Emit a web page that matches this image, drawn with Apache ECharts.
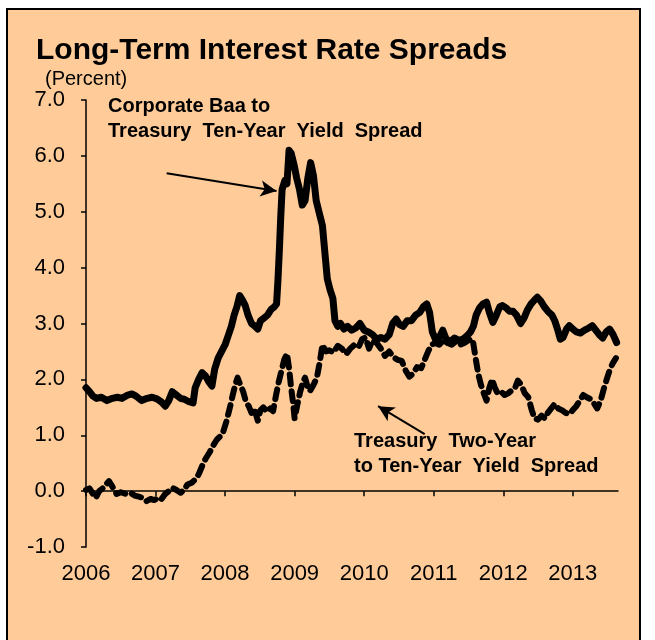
<!DOCTYPE html>
<html>
<head>
<meta charset="utf-8">
<script src="https://cdn.jsdelivr.net/npm/echarts@6/dist/echarts.min.js"></script>
<style>
html,body{margin:0;padding:0;background:#ffffff;}
#chart{width:655px;height:640px;}
</style>
</head>
<body>
<div id="chart"></div>
<script>
// Tick labels
var yearLabels = [2006, 2007, 2008, 2009, 2010, 2011, 2012, 2013];
var yTicks = [-1, 0, 1, 2, 3, 4, 5, 6, 7];

// Corporate Baa to Treasury 10-year spread (decimal year, percent)
var baaDates = [2006.00,2006.05,2006.10,2006.15,2006.22,2006.30,2006.38,2006.45,2006.52,2006.60,2006.66,2006.72,2006.80,2006.88,2006.95,
2007.02,2007.08,2007.14,2007.19,2007.24,2007.30,2007.36,2007.42,2007.48,2007.54,2007.57,2007.62,2007.67,2007.72,2007.77,2007.81,2007.85,2007.90,2007.95,
2008.00,2008.05,2008.09,2008.13,2008.17,2008.21,2008.25,2008.29,2008.33,2008.38,2008.43,2008.47,2008.51,2008.56,2008.61,2008.66,2008.71,2008.74,2008.76,2008.78,2008.80,2008.82,2008.86,2008.89,2008.92,2008.95,2008.99,
2009.03,2009.07,2009.11,2009.15,2009.19,2009.23,2009.27,2009.31,2009.36,2009.40,2009.44,2009.47,2009.51,2009.55,2009.58,2009.62,2009.66,2009.71,2009.76,2009.82,2009.88,2009.94,
2010.00,2010.06,2010.12,2010.18,2010.24,2010.30,2010.36,2010.41,2010.46,2010.51,2010.56,2010.62,2010.68,2010.74,2010.80,2010.85,2010.90,2010.94,2010.98,
2011.03,2011.08,2011.13,2011.18,2011.24,2011.30,2011.36,2011.42,2011.48,2011.53,2011.57,2011.61,2011.66,2011.71,2011.76,2011.80,2011.85,2011.90,2011.95,2011.99,
2012.04,2012.09,2012.14,2012.19,2012.25,2012.30,2012.35,2012.40,2012.45,2012.49,2012.54,2012.59,2012.64,2012.70,2012.74,2012.78,2012.82,2012.86,2012.91,2012.95,
2013.00,2013.05,2013.11,2013.17,2013.23,2013.28,2013.33,2013.38,2013.43,2013.48,2013.53,2013.58,2013.63];
var baaValues = [1.85,1.78,1.70,1.66,1.68,1.62,1.66,1.68,1.66,1.72,1.74,1.70,1.62,1.66,1.68,
1.65,1.60,1.52,1.62,1.78,1.72,1.66,1.64,1.60,1.58,1.85,2.00,2.12,2.06,1.95,1.88,2.18,2.38,2.50,
2.62,2.80,2.95,3.15,3.30,3.50,3.42,3.32,3.15,3.00,2.95,2.90,3.05,3.10,3.15,3.25,3.30,3.35,3.77,4.30,4.90,5.40,5.56,5.50,6.10,6.05,5.85,
5.60,5.40,5.12,5.20,5.60,5.88,5.65,5.20,4.95,4.75,4.20,3.80,3.60,3.45,3.05,2.95,3.00,2.90,2.95,2.88,2.92,3.00,
2.88,2.85,2.80,2.72,2.75,2.72,2.80,3.00,3.08,2.98,2.95,3.05,3.05,3.15,3.20,3.30,3.35,3.20,2.85,
2.70,2.75,2.88,2.72,2.68,2.74,2.70,2.72,2.78,2.85,2.95,3.15,3.28,3.35,3.38,3.20,3.02,3.15,3.30,3.32,
3.28,3.22,3.22,3.15,3.00,3.10,3.25,3.35,3.42,3.47,3.40,3.30,3.22,3.15,3.05,2.90,2.72,2.75,2.90,2.96,
2.90,2.85,2.83,2.88,2.92,2.96,2.88,2.80,2.74,2.85,2.90,2.80,2.66];

// Treasury 2-year to 10-year spread (decimal year, percent)
var twoTenDates = [2006.00,2006.05,2006.10,2006.14,2006.19,2006.24,2006.29,2006.33,2006.38,2006.44,2006.50,2006.57,2006.64,2006.70,2006.76,2006.82,2006.87,2006.93,2006.98,
2007.04,2007.08,2007.14,2007.19,2007.24,2007.30,2007.36,2007.41,2007.46,2007.52,2007.58,2007.62,2007.67,2007.72,2007.78,2007.83,2007.88,2007.93,2007.97,
2008.02,2008.07,2008.11,2008.15,2008.18,2008.22,2008.26,2008.30,2008.34,2008.38,2008.42,2008.47,2008.51,2008.55,2008.60,2008.65,2008.69,2008.73,2008.77,2008.81,2008.85,2008.89,2008.92,2008.95,2008.98,
2009.00,2009.04,2009.08,2009.12,2009.15,2009.19,2009.22,2009.27,2009.32,2009.36,2009.40,2009.45,2009.50,2009.56,2009.62,2009.68,2009.74,2009.80,2009.86,2009.92,2009.97,
2010.02,2010.07,2010.12,2010.18,2010.24,2010.30,2010.36,2010.42,2010.48,2010.54,2010.60,2010.65,2010.70,2010.76,2010.82,2010.87,2010.92,2010.97,
2011.02,2011.08,2011.14,2011.20,2011.26,2011.32,2011.38,2011.44,2011.50,2011.56,2011.60,2011.64,2011.68,2011.72,2011.76,2011.80,2011.84,2011.88,2011.92,2011.97,
2012.02,2012.07,2012.12,2012.17,2012.21,2012.26,2012.31,2012.36,2012.41,2012.45,2012.50,2012.55,2012.60,2012.64,2012.69,2012.74,2012.79,2012.84,2012.90,2012.95,
2013.00,2013.05,2013.10,2013.15,2013.20,2013.25,2013.30,2013.35,2013.40,2013.45,2013.50,2013.54,2013.58,2013.62];
var twoTenValues = [0.02,0.05,-0.05,-0.12,0.00,0.05,0.12,0.18,0.08,-0.05,-0.02,-0.05,-0.03,-0.08,-0.10,-0.12,-0.18,-0.14,-0.16,
-0.12,-0.15,-0.05,0.00,0.06,0.02,-0.03,0.02,0.12,0.15,0.22,0.30,0.45,0.58,0.70,0.82,0.92,0.98,1.05,
1.25,1.50,1.72,1.92,2.03,1.90,1.78,1.60,1.52,1.40,1.48,1.26,1.45,1.50,1.42,1.48,1.43,1.70,1.95,2.15,2.35,2.46,2.20,1.85,1.55,
1.30,1.55,1.78,1.95,2.03,1.85,1.79,1.90,2.03,2.30,2.62,2.50,2.52,2.48,2.60,2.55,2.45,2.55,2.62,2.58,2.72,
2.75,2.55,2.70,2.65,2.55,2.42,2.50,2.40,2.35,2.33,2.15,2.05,2.10,2.22,2.20,2.35,2.50,2.62,
2.65,2.62,2.70,2.65,2.62,2.68,2.62,2.65,2.70,2.72,2.40,2.10,1.90,1.75,1.62,1.85,2.00,1.85,1.75,1.78,
1.72,1.75,1.80,1.85,1.98,1.90,1.75,1.68,1.45,1.30,1.28,1.35,1.30,1.40,1.48,1.56,1.48,1.45,1.40,1.38,
1.45,1.52,1.62,1.72,1.68,1.65,1.58,1.48,1.62,1.85,2.05,2.20,2.30,2.38];

function zip(a, b) { return a.map(function (d, i) { return [d, b[i]]; }); }

var FONT = '"Liberation Sans", Arial, sans-serif';
var chart = echarts.init(document.getElementById('chart'), null, { renderer: 'canvas' });

chart.setOption({
  animation: false,
  backgroundColor: '#ffffff',
  graphic: [
    { type: 'rect', z: -10, shape: { x: 7, y: 9, width: 633, height: 660 },
      style: { fill: '#FFCC99', stroke: '#000000', lineWidth: 2 } },
    { type: 'text', left: 108, top: 94, z: 10,
      style: { text: 'Corporate Baa to\nTreasury  Ten-Year  Yield  Spread', fill: '#000', font: 'bold 20px ' + FONT, lineHeight: 25 } },
    { type: 'text', left: 354, top: 429, z: 10,
      style: { text: 'Treasury  Two-Year\nto Ten-Year  Yield  Spread', fill: '#000', font: 'bold 20px ' + FONT, lineHeight: 25 } }
  ],
  title: [
    { text: 'Long-Term Interest Rate Spreads', left: 31, top: 31,
      textStyle: { fontFamily: FONT, fontWeight: 'bold', fontSize: 30, color: '#000' } },
    { text: '(Percent)', left: 40, top: 64,
      textStyle: { fontFamily: FONT, fontWeight: 'normal', fontSize: 20, color: '#000' } }
  ],
  grid: { left: 86, right: 37, top: 100, bottom: 93, containLabel: false },
  xAxis: {
    type: 'value', min: 2006, max: 2013.65, interval: 1,
    axisLine: { onZero: true, lineStyle: { color: '#000', width: 1.5 } },
    axisTick: { show: true, length: 5, lineStyle: { color: '#000', width: 1.5 } },
    splitLine: { show: false },
    axisLabel: {
      margin: 16, fontFamily: FONT, fontSize: 22, color: '#000',
      formatter: function (v) { var y = Math.round(v); return yearLabels.indexOf(y) >= 0 ? String(y) : ''; },
      showMaxLabel: false
    }
  },
  yAxis: {
    type: 'value', min: yTicks[0], max: yTicks[yTicks.length - 1], interval: 1,
    axisLine: { show: true, onZero: false, lineStyle: { color: '#000', width: 1.5 } },
    axisTick: { show: true, length: 5, lineStyle: { color: '#000', width: 1.5 } },
    splitLine: { show: false },
    axisLabel: { margin: 21, fontFamily: FONT, fontSize: 22, color: '#000',
      formatter: function (v) { return v.toFixed(1); } }
  },
  series: [
    {
      name: 'Corporate Baa to Treasury Ten-Year Yield Spread',
      type: 'line', data: zip(baaDates, baaValues), showSymbol: false, smooth: false,
      lineStyle: { color: '#000', width: 7, cap: 'round', join: 'round' },
      markLine: {
        silent: true, symbol: ['none', 'arrow'], symbolSize: [12, 16], label: { show: false },
        lineStyle: { color: '#000', width: 2, type: 'solid' },
        data: [[{ coord: [2007.16, 5.69] }, { coord: [2008.74, 5.37] }]]
      }
    },
    {
      name: 'Treasury Two-Year to Ten-Year Yield Spread',
      type: 'line', data: zip(twoTenDates, twoTenValues), showSymbol: false, smooth: false,
      lineStyle: { color: '#000', width: 6, type: [10, 7], cap: 'round', join: 'round' },
      markLine: {
        silent: true, symbol: ['none', 'arrow'], symbolSize: [12, 16], label: { show: false },
        lineStyle: { color: '#000', width: 2, type: 'solid' },
        data: [[{ coord: [2010.87, 1.02] }, { coord: [2010.2, 1.52] }]]
      }
    }
  ]
});
</script>
</body>
</html>
